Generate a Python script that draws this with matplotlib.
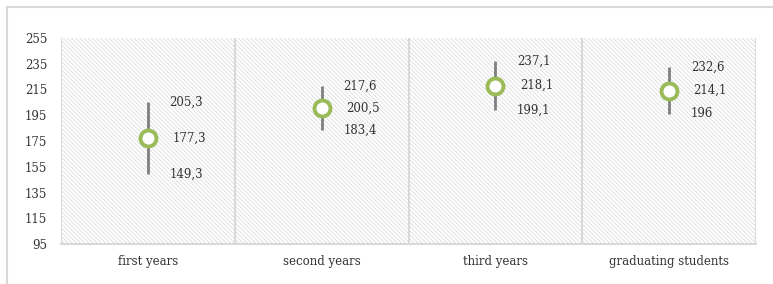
import matplotlib
matplotlib.use("Agg")
import matplotlib.pyplot as plt
from matplotlib.patches import Rectangle
import numpy as np

categories = ["first years", "second years", "third years", "graduating students"]
high_vals = [205.3, 217.6, 237.1, 232.6]
mid_vals = [177.3, 200.5, 218.1, 214.1]
low_vals = [149.3, 183.4, 199.1, 196]
high_labels = ["205,3", "217,6", "237,1", "232,6"]
mid_labels = ["177,3", "200,5", "218,1", "214,1"]
low_labels = ["149,3", "183,4", "199,1", "196"]
yticks = [95, 115, 135, 155, 175, 195, 215, 235, 255]

plt.rcParams['font.family'] = ['DejaVu Serif']
plt.rcParams['hatch.linewidth'] = 0.5

fig = plt.figure(figsize=(7.73, 2.84), dpi=100)
fig.patch.set_facecolor('white')
# outer frame
fig.patches.append(Rectangle((7/773, -0.1), 1.1, (284-7)/284 + 0.1, transform=fig.transFigure,
                             fill=False, edgecolor='#d9d9d9', linewidth=1.5, zorder=0))

ax = fig.add_axes([61/773, 40/284, (756-61)/773, (244-38)/284])
x = np.arange(len(categories))
ax.set_xlim(-0.5, len(categories) - 0.5)
ax.set_ylim(95, 255)

# hatched background
ax.add_patch(Rectangle((0, 0), 1, 1, transform=ax.transAxes, facecolor='white',
                       edgecolor='#d6d6d6', hatch='\\' * 8, linewidth=0, zorder=0))

# category separators
for b in np.arange(-0.5, len(categories)):
    ax.axvline(b, color='#d9d9d9', linewidth=1.5, zorder=1)
ax.axhline(95, color='#d9d9d9', linewidth=1.5, zorder=1, clip_on=False)

for s in ax.spines.values():
    s.set_visible(False)

ax.vlines(x, low_vals, high_vals, color='#7f7f7f', linewidth=2, zorder=2)
ax.plot(x, mid_vals, linestyle='none', marker='o', markersize=11.5,
        markerfacecolor='white', markeredgecolor='#9bbb59', markeredgewidth=2.8, zorder=3)

tc = '#333333'
for i in range(len(categories)):
    ax.text(x[i] + 0.125, high_vals[i], high_labels[i], va='center', ha='left', fontsize=8.5, color=tc)
    ax.text(x[i] + 0.14, mid_vals[i], mid_labels[i], va='center', ha='left', fontsize=8.5, color=tc)
    ax.text(x[i] + 0.125, low_vals[i], low_labels[i], va='center', ha='left', fontsize=8.5, color=tc)

ax.set_yticks(yticks)
ax.set_yticklabels([str(v) for v in yticks], fontsize=8.5, color=tc)
ax.set_xticks(x)
ax.set_xticklabels(categories, fontsize=8.5, color=tc)
ax.tick_params(axis='both', length=0)
ax.tick_params(axis='y', pad=10)
ax.tick_params(axis='x', pad=8)

fig.savefig('out.png', dpi=100)
